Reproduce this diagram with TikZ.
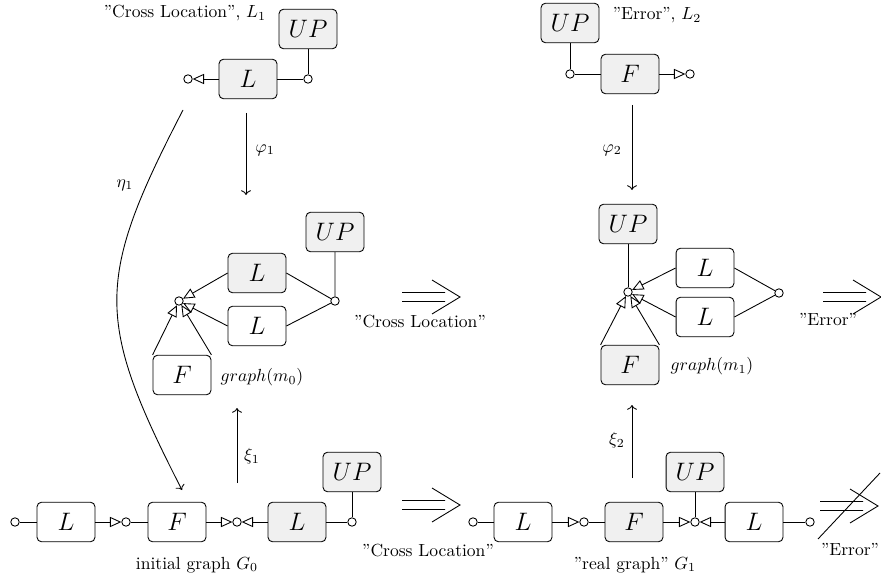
\documentclass[tikz,border=0pt]{standalone}
\usetikzlibrary{arrows.meta}

\begin{document}
\begin{tikzpicture}[x=0.57pt, y=-0.57pt, line width=0.5pt,
    box/.style={draw, rounded corners=2.5pt, minimum width=33pt, minimum height=22.5pt, font=\Large},
    grey/.style={box, fill=black!6},
    port/.style={circle, draw, inner sep=0pt, minimum size=4.8pt},
    into/.style={-{Triangle[open, length=6.5pt, width=5.8pt]}},
    entails/.pic={\draw (-29,-4.5) -- (14,-4.5) (-29,4.5) -- (14,4.5) (1,-17) -- (29,0) -- (1,17);},
    notentails/.pic={\pic {entails}; \draw (-31,33) -- (31,-33);}]
            \useasboundingbox (0,0) rectangle (881,584);

            % rule L_1
            \node at (185,13) {''Cross Location'', $L_1$};
            \node[grey] (UPa) at (308,29) {$UP$};
            \node[grey] (La) at (248,79) {$L$};
            \node[port] (pa1) at (188,79) {};
            \node[port] (pa2) at (308,79) {};
            \draw[into] (La) -- (pa1);
            \draw (La) -- (pa2) -- (UPa);

            % rule L_2
            \node at (657,15) {''Error'', $L_2$};
            \node[grey] (UPb) at (570,23) {$UP$};
            \node[grey] (Fb) at (630,74) {$F$};
            \node[port] (pb1) at (570,74) {};
            \node[port] (pb2) at (690,74) {};
            \draw (UPb) -- (pb1) -- (Fb);
            \draw[into] (Fb) -- (pb2);

            % matches
            \coordinate (phi1s) at (246,113);
            \coordinate (phi1e) at (246,195);
            \draw[->] (phi1s) -- (phi1e);
            \node at (265,150) {$\varphi_1$};
            \coordinate (phi2s) at (632,105);
            \coordinate (phi2e) at (632,190);
            \draw[->] (phi2s) -- (phi2e);
            \node at (612,150) {$\varphi_2$};
            \coordinate (eta1s) at (183,110);
            \coordinate (eta1e) at (182,490);
            \draw[->] (eta1s) .. controls (95,280) and (95,320) .. (eta1e);
            \node at (125,185) {$\eta_1$};
            \coordinate (xi1s) at (237,483);
            \coordinate (xi1e) at (237,408);
            \draw[->] (xi1s) -- (xi1e);
            \node at (252,456) {$\xi_1$};
            \coordinate (xi2s) at (632,478);
            \coordinate (xi2e) at (632,405);
            \draw[->] (xi2s) -- (xi2e);
            \node at (617,440) {$\xi_2$};

            % graph(m_0)
            \node[grey] (UPc) at (335,232) {$UP$};
            \node[grey] (Lc1) at (257,273) {$L$};
            \node[box] (Lc2) at (257,326) {$L$};
            \node[box] (Fc) at (182,375) {$F$};
            \node[port] (pc1) at (179,301) {};
            \node[port] (pc2) at (335,301) {};
            \draw[into] (Lc1.west) -- (pc1);
            \draw[into] (Lc2.west) -- (pc1);
            \draw[into] (Fc.north west) -- (pc1);
            \draw[into] (Fc.north east) -- (pc1);
            \draw (Lc1.east) -- (pc2) -- (UPc);
            \draw (Lc2.east) -- (pc2);
            \node at (262,377) {$graph(m_0)$};
            \pic at (431,297) {entails};
            \node at (420,322) {''Cross Location''};

            % graph(m_1)
            \node[grey] (UPd) at (628,224) {$UP$};
            \node[box] (Ld1) at (705,268) {$L$};
            \node[box] (Ld2) at (705,317) {$L$};
            \node[grey] (Fd) at (630,365) {$F$};
            \node[port] (pd1) at (628,292) {};
            \node[port] (pd2) at (779,293) {};
            \draw (UPd) -- (pd1);
            \draw[into] (Ld1.west) -- (pd1);
            \draw[into] (Ld2.west) -- (pd1);
            \draw[into] (Fd.north west) -- (pd1);
            \draw[into] (Fd.north east) -- (pd1);
            \draw (Ld1.east) -- (pd2);
            \draw (Ld2.east) -- (pd2);
            \node at (712,366) {$graph(m_1)$};
            \pic at (852,297) {entails};
            \node at (828,320) {''Error''};

            % initial graph G_0
            \node[port] (pe0) at (15,522) {};
            \node[box] (Le1) at (66,522) {$L$};
            \node[port] (pe1) at (126,522) {};
            \node[box] (Fe) at (177,522) {$F$};
            \node[port] (pe2) at (237,522) {};
            \node[grey] (Le2) at (297,522) {$L$};
            \node[port] (pe3) at (352,522) {};
            \node[grey] (UPe) at (352,472) {$UP$};
            \draw (pe0) -- (Le1);
            \draw[into] (Le1) -- (pe1);
            \draw (pe1) -- (Fe);
            \draw[into] (Fe) -- (pe2);
            \draw[into] (Le2) -- (pe2);
            \draw (Le2) -- (pe3) -- (UPe);
            \node at (197,565) {initial graph $G_0$};
            \pic at (431,505) {entails};
            \node at (428,551) {''Cross Location''};

            % real graph G_1
            \node[port] (pf0) at (473,522) {};
            \node[box] (Lf1) at (523,522) {$L$};
            \node[port] (pf1) at (584,522) {};
            \node[grey] (Ff) at (634,522) {$F$};
            \node[port] (pf2) at (695,522) {};
            \node[grey] (UPf) at (695,472) {$UP$};
            \node[box] (Lf2) at (754,522) {$L$};
            \node[port] (pf3) at (810,522) {};
            \draw (pf0) -- (Lf1);
            \draw[into] (Lf1) -- (pf1);
            \draw (pf1) -- (Ff);
            \draw[into] (Ff) -- (pf2);
            \draw[into] (Lf2) -- (pf2);
            \draw (UPf) -- (pf2);
            \draw (Lf2) -- (pf3);
            \node at (635,565) {''real graph'' $G_1$};
            \pic at (849,506) {notentails};
            \node at (850,550) {''Error''};
\end{tikzpicture}
\end{document}
